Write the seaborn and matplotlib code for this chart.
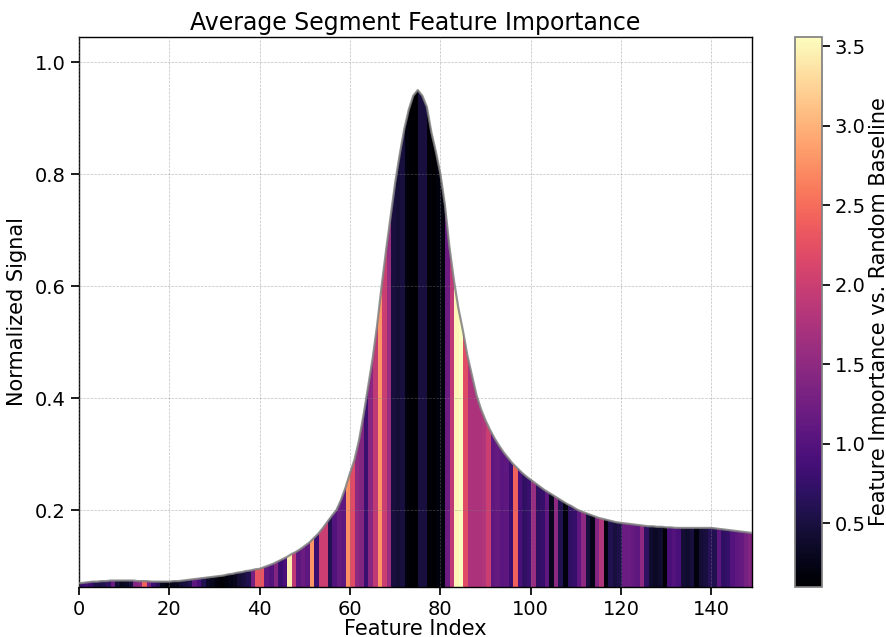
import numpy as np
import matplotlib
matplotlib.use("Agg")
import matplotlib.pyplot as plt
import matplotlib.colors as mcolors
import seaborn as sns

# Normalized signal, one value per feature index
signal = [
    0.069, 0.070, 0.071, 0.072, 0.072, 0.073, 0.073, 0.074, 0.074, 0.074,
    0.074, 0.074, 0.074, 0.073, 0.073, 0.073, 0.072, 0.072, 0.072, 0.072,
    0.072, 0.073, 0.073, 0.074, 0.075, 0.076, 0.077, 0.078, 0.079, 0.080,
    0.081, 0.082, 0.083, 0.085, 0.086, 0.088, 0.089, 0.091, 0.092, 0.094,
    0.095, 0.098, 0.101, 0.104, 0.108, 0.112, 0.116, 0.121, 0.125, 0.130,
    0.136, 0.142, 0.150, 0.158, 0.168, 0.179, 0.190, 0.200, 0.218, 0.240,
    0.266, 0.290, 0.325, 0.370, 0.420, 0.470, 0.530, 0.600, 0.665, 0.725,
    0.785, 0.835, 0.880, 0.915, 0.940, 0.950, 0.940, 0.920, 0.875, 0.840,
    0.800, 0.745, 0.670, 0.610, 0.560, 0.520, 0.475, 0.440, 0.405, 0.380,
    0.360, 0.343, 0.328, 0.315, 0.303, 0.293, 0.283, 0.275, 0.267, 0.260,
    0.254, 0.248, 0.242, 0.236, 0.231, 0.226, 0.221, 0.216, 0.211, 0.207,
    0.202, 0.198, 0.195, 0.192, 0.189, 0.186, 0.184, 0.182, 0.180, 0.178,
    0.177, 0.176, 0.175, 0.174, 0.173, 0.172, 0.171, 0.171, 0.170, 0.170,
    0.169, 0.169, 0.168, 0.168, 0.168, 0.168, 0.168, 0.168, 0.168, 0.168,
    0.168, 0.167, 0.166, 0.165, 0.164, 0.163, 0.162, 0.161, 0.160, 0.159,
]

# Feature importance relative to a random baseline, per feature index
importance = [
    0.80, 0.85, 0.80, 0.60, 0.55, 0.60, 0.70, 1.20, 0.45, 0.30,
    0.35, 0.50, 1.40, 1.50, 2.40, 1.30, 0.80, 0.65, 0.30, 0.20,
    0.25, 0.30, 0.45, 0.50, 0.60, 1.10, 0.90, 0.60, 0.35, 0.30,
    0.20, 0.15, 0.20, 0.25, 0.30, 0.45, 0.50, 0.60, 1.30, 2.30,
    2.30, 1.10, 1.00, 1.40, 0.80, 0.90, 3.45, 1.90, 1.10, 1.20,
    1.10, 2.80, 0.80, 2.00, 2.00, 0.60, 1.00, 1.15, 1.10, 2.75,
    2.20, 1.50, 1.40, 0.80, 1.45, 1.90, 2.80, 2.00, 1.60, 0.50,
    0.45, 0.50, 0.20, 0.12, 0.10, 0.50, 0.50, 0.15, 0.12, 0.20,
    0.20, 1.20, 1.90, 3.50, 3.56, 2.20, 1.75, 1.75, 1.75, 1.80,
    2.00, 1.10, 1.15, 1.05, 1.10, 0.80, 2.40, 0.90, 0.70, 0.80,
    1.60, 0.70, 0.75, 1.10, 0.30, 1.50, 0.60, 0.20, 0.70, 0.75,
    1.10, 1.50, 0.50, 0.25, 1.40, 1.80, 0.20, 0.60, 0.50, 0.55,
    1.20, 1.20, 1.15, 1.10, 1.50, 0.70, 0.40, 0.35, 0.40, 0.15,
    0.90, 1.00, 0.90, 0.45, 0.40, 0.50, 0.20, 0.45, 0.50, 0.65,
    0.60, 1.10, 0.70, 0.75, 1.00, 1.10, 1.15, 1.30, 1.40, 1.40,
]

feature_index = np.arange(len(signal))
signal = np.array(signal)
importance = np.array(importance)

sns.set_theme(style="ticks")
plt.rcParams["font.family"] = ["DejaVu Sans"]
plt.rcParams["text.color"] = "black"
plt.rcParams["axes.labelcolor"] = "black"
plt.rcParams["xtick.color"] = "black"
plt.rcParams["ytick.color"] = "black"

fig = plt.figure(figsize=(8.86, 6.37), dpi=100)
ax = fig.add_axes([0.0892, 0.0785, 0.7596, 0.8635])
cax = fig.add_axes([0.897, 0.0785, 0.0305, 0.8635])

y_lo, y_hi = 0.0625, 1.045
norm = mcolors.Normalize(vmin=importance.min(), vmax=importance.max())

# area under curve, used as clip for the importance stripes
area = ax.fill_between(feature_index, signal, y_lo, facecolor="none", edgecolor="none")
im = ax.imshow(importance[np.newaxis, :], cmap="magma", norm=norm, aspect="auto",
               interpolation="nearest", origin="lower",
               extent=[0, len(importance), y_lo, y_hi], zorder=1)
im.set_clip_path(area.get_paths()[0], transform=ax.transData)

sns.lineplot(x=feature_index, y=signal, ax=ax, color="grey", linewidth=1.6, alpha=0.85, zorder=3)

ax.set_xlim(0, len(signal) - 1)
ax.set_ylim(y_lo, y_hi)
ax.grid(True, linestyle="--", linewidth=0.5, color="grey", alpha=0.5, zorder=4)
ax.set_axisbelow(False)
for sp in ax.spines.values():
    sp.set_visible(True)
    sp.set_color("black")
    sp.set_linewidth(1)

ax.tick_params(labelsize=14, colors="black")
ax.set_xlabel("Feature Index", fontsize=15, labelpad=0)
ax.set_ylabel("Normalized Signal", fontsize=15, labelpad=6)
ax.set_title("Average Segment Feature Importance", fontsize=17, pad=5)

cb = fig.colorbar(im, cax=cax)
cb.set_label("Feature Importance vs. Random Baseline", fontsize=15, labelpad=2)
cb.ax.tick_params(labelsize=14, colors="black")
cb.outline.set_edgecolor("grey")

fig.savefig("out.png", dpi=100)
